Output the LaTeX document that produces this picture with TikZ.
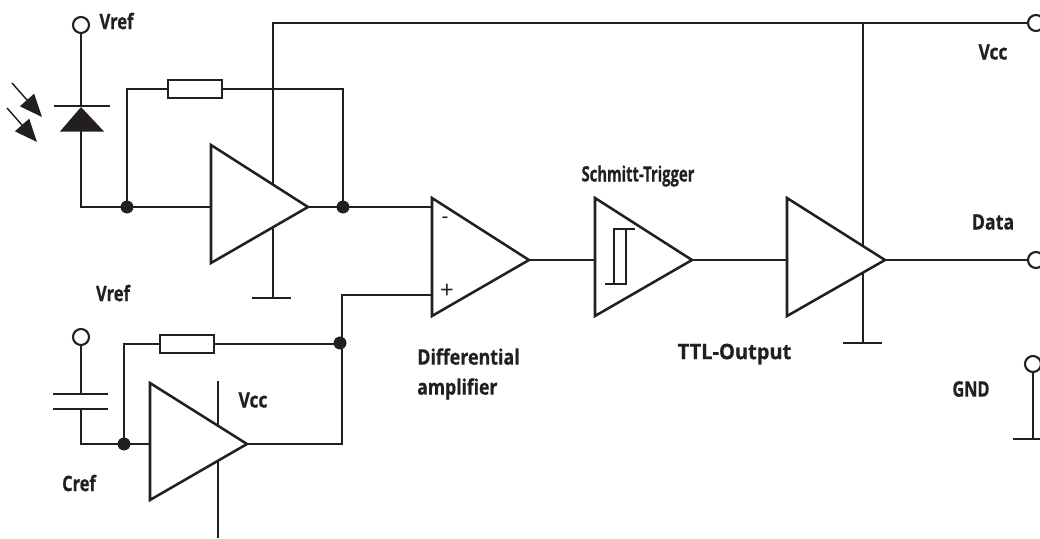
\documentclass[tikz,border=0pt]{standalone}
\usepackage{graphicx}
\usepackage{fontspec}
\setmainfont[FakeStretch=0.68,BoldFont={Open Sans Bold},BoldFeatures={FakeBold=0.6}]{Open Sans}
\newfontfamily\signfont{Open Sans}
\usetikzlibrary{arrows.meta}
\definecolor{ink}{HTML}{231F20}
\newcommand{\widen}[2]{\scalebox{#1}[1]{#2}}
\tikzset{
  wire/.style={draw=ink,line width=1.6pt,line join=miter},
  amp/.style={draw=ink,fill=white,line width=1.9pt,line join=miter},
  term/.style={circle,draw=ink,fill=white,line width=1.6pt,minimum size=12pt,inner sep=0pt},
  res/.style={rectangle,draw=ink,fill=white,line width=1.6pt,minimum width=41pt,minimum height=13pt,inner sep=0pt},
  junc/.style={circle,fill=ink,minimum size=9.5pt,inner sep=0pt},
  lbl/.style={text=ink,font=\bfseries\fontsize{16}{22.5}\selectfont,inner sep=0pt,align=left},
  ray/.style={draw=ink,line width=1.1pt,-{Triangle[length=17pt,width=14pt]}}
}
\begin{document}
\begin{tikzpicture}[x=0.75pt,y=-0.75pt]
\useasboundingbox (0,0) rectangle (1040,539);
% terminals
\node[term] (tVrefA) at (81,25) {};
\node[term] (tVrefB) at (81,337) {};
\node[term] (tVcc) at (1036,23) {};
\node[term] (tData) at (1036,260) {};
\node[term] (tGnd) at (1033,364) {};
% junctions
\node[junc] (j1) at (127,207) {};
\node[junc] (j2) at (343,207) {};
\node[junc] (j3) at (340,343) {};
\node[junc] (j4) at (124,444) {};
% resistors
\node[res] (r1) at (195,89) {};
\node[res] (r2) at (187,344) {};
% free ends and corners
\coordinate (a1in) at (211,207);
\coordinate (a1out) at (308,207);
\coordinate (a2minus) at (432,207);
\coordinate (a2plus) at (432,295);
\coordinate (a2out) at (529,260);
\coordinate (a3in) at (595,260);
\coordinate (a3out) at (692,260);
\coordinate (a4in) at (787,260);
\coordinate (a4out) at (885,260);
\coordinate (a5in) at (150,444);
\coordinate (a5out) at (247,444);
\coordinate (cTop) at (81,394);
\coordinate (cBot) at (81,409);
\coordinate (dA) at (81,106);
\coordinate (dK) at (81,131);
\coordinate (g1) at (273,298);
\coordinate (g2) at (863,343);
\coordinate (vccL) at (273,23);
\coordinate (vccR) at (863,23);
\coordinate (v5top) at (218,381);
\coordinate (v5bot) at (218,538);
\coordinate (g3) at (1033,439);
% supply lines
\draw[wire] (g1) -- (vccL) -- (tVcc.west);
\draw[wire] (vccR) -- (g2);
\draw[wire] (252,298) -- (291,298);
\draw[wire] (843,343) -- (882,343);
\draw[wire] (v5top) -- (v5bot);
\draw[wire] (tGnd.south) -- (g3);
\draw[wire] (1013,439) -- (1040,439);
% photodiode path
\draw[wire] (tVrefA.south) -- (dA);
\draw[wire] (dK) -- (81,207) -- (j1.center) -- (a1in);
\draw[wire] (54,106) -- (110,106);
\fill[ink] (81,107) -- (104,131.5) -- (60,131.5) -- cycle;
\draw[ray] (12,83) -- (42,117);
\draw[ray] (7,108) -- (37,142);
% feedback 1
\draw[wire] (j1.center) |- (r1.west);
\draw[wire] (r1.east) -| (j2.center);
\draw[wire] (a1out) -- (j2.center) -- (a2minus |- j2);
% lower stage
\draw[wire] (tVrefB.south) -- (cTop);
\draw[wire] (cBot) -- (81,444) -- (j4.center) -- (a5in);
\draw[wire] (53,394) -- (108,394);
\draw[wire] (53,409) -- (108,409);
\draw[wire] (j4.center) |- (r2.west);
\draw[wire] (r2.east) -- (342,344);
\draw[wire] (a5out) -- (342,444) -- (342,295) -- (a2plus);
% chain
\draw[wire] (a2out) -- (a3in);
\draw[wire] (a3out) -- (a4in);
\draw[wire] (a4out) -- (tData.west);
% redraw parts on top
\node[res] at (195,89) {};
\node[res] at (187,344) {};
\node[junc] at (127,207) {};
\node[junc] at (343,207) {};
\node[junc] at (340,343) {};
\node[junc] at (124,444) {};
% amplifiers
\draw[amp] (211,145) -- (211,263) -- (308,207) -- cycle;
\draw[amp] (432,198) -- (432,316) -- (529,260) -- cycle;
\draw[amp] (595,198) -- (595,316) -- (692,260) -- cycle;
\draw[amp] (787,198) -- (787,316) -- (885,260) -- cycle;
\draw[amp] (150,383) -- (150,500) -- (247,444) -- cycle;
% hysteresis
\draw[draw=ink,line width=1.1pt] (635,229) -- (614,229) -- (614,284);
\draw[draw=ink,line width=1.1pt] (605,284) -- (626,284) -- (626,229);
% labels
\node[lbl] (n1) at (116.5,21) {\widen{1.14}{Vref}};
\node[lbl] (n2) at (113,293) {\widen{1.14}{Vref}};
\node[lbl] (n3) at (79,483) {\widen{1.13}{Cref}};
\node[lbl] (n4) at (253,400) {\widen{1.2}{Vcc}};
\node[lbl] (n5) at (993,52) {\widen{1.2}{Vcc}};
\node[lbl] (n6) at (993,222) {\widen{1.23}{Data}};
\node[lbl] (n7) at (971,389) {\widen{1.12}{GND}};
\node[lbl] (n8) at (638,176) {\widen{1.02}{Schmitt-Trigger}};
\node[lbl] (n9) at (734.5,354) {\widen{1.38}{TTL-Output}};
\node[lbl,anchor=west] (n10) at (417,374) {\widen{1.23}{Differential}\\\widen{1.21}{amplifier}};
\node[text=ink,font=\signfont\fontsize{16}{18}\selectfont,inner sep=0pt] (n11) at (445,220) {-};
\node[text=ink,font=\signfont\fontsize{18}{20}\selectfont,inner sep=0pt] (n12) at (447,291) {+};
\end{tikzpicture}
\end{document}
